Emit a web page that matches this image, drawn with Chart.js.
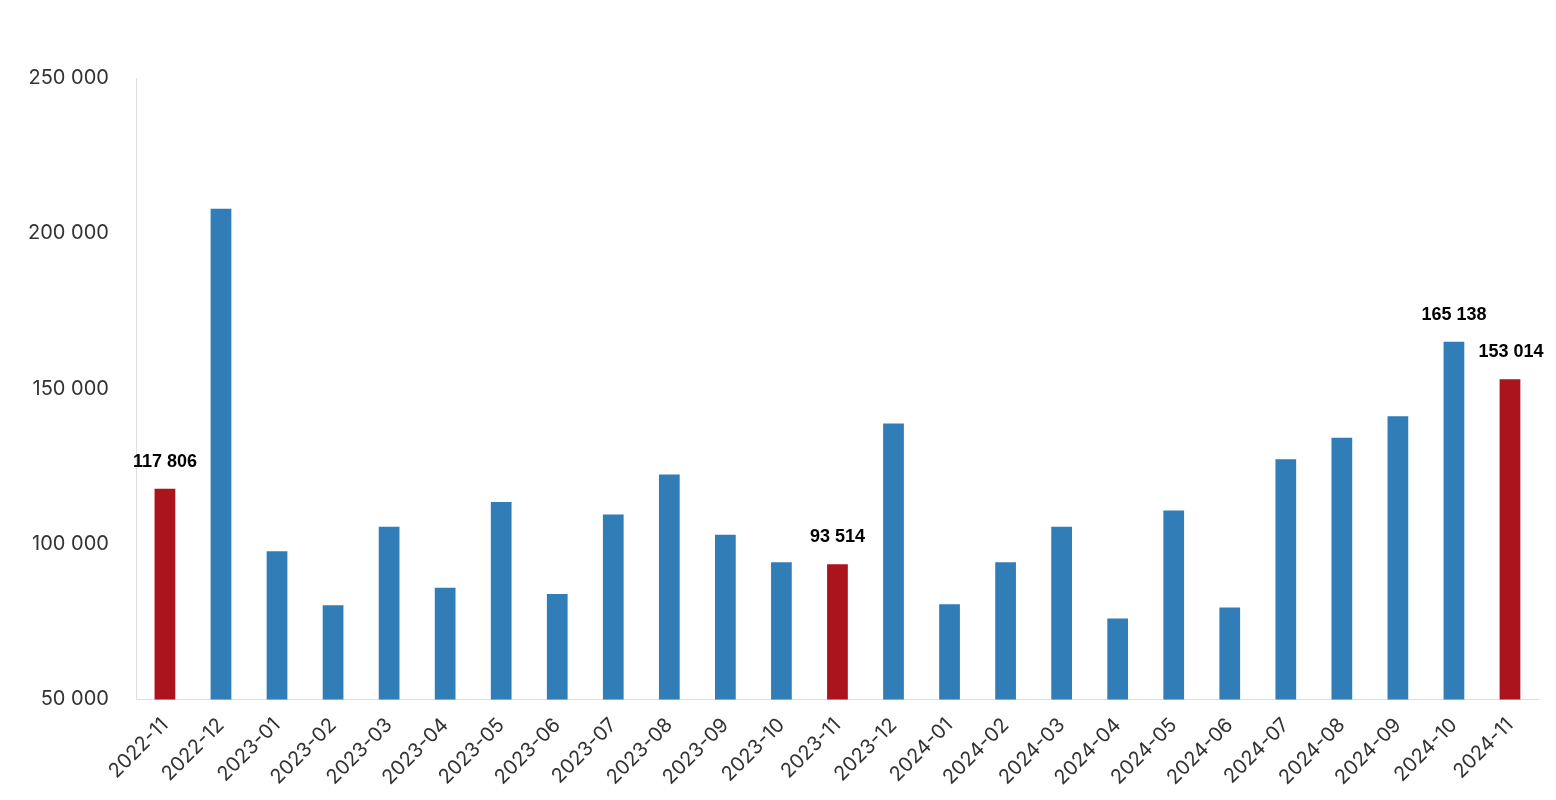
<!DOCTYPE html>
<html><head><meta charset="utf-8">
<script src="https://cdn.jsdelivr.net/npm/chart.js@4"></script>
<style>html,body{margin:0;background:#fff}#w{width:1556px;height:800px}</style>
</head><body><div id="w"><canvas id="c"></canvas></div>
<script>
const categories=["2022-11","2022-12","2023-01","2023-02","2023-03","2023-04","2023-05","2023-06","2023-07","2023-08","2023-09","2023-10","2023-11","2023-12","2024-01","2024-02","2024-03","2024-04","2024-05","2024-06","2024-07","2024-08","2024-09","2024-10","2024-11"];
const values=[117806,207900,97700,80300,105600,85900,113500,83900,109500,122400,103000,94100,93514,138800,80600,94100,105600,76000,110800,79600,127300,134200,141100,165138,153014];
const highlighted=["2022-11","2023-11","2024-11"];
const labelled=["2022-11","2023-11","2024-10","2024-11"];
const fmt=v=>String(v).replace(/\B(?=(\d{3})+(?!\d))/g,' ');
const labelPlugin={id:'lbl',afterDatasetsDraw(ch){const ctx=ch.ctx;const meta=ch.getDatasetMeta(0);ctx.save();ctx.font='bold 18px "Liberation Sans", Arial';ctx.fillStyle='#000';ctx.textAlign='center';ctx.textBaseline='bottom';
meta.data.forEach((b,i)=>{if(labelled.includes(categories[i])){ctx.fillText(fmt(values[i]),b.x+(categories[i]==='2024-11'?1:0),b.y-18);}});ctx.restore();}};
new Chart(document.getElementById('c'),{type:'bar',data:{labels:categories,datasets:[{data:values,backgroundColor:categories.map(c=>highlighted.includes(c)?'#ab141c':'#317db8'),barPercentage:0.37,categoryPercentage:1}]},
options:{responsive:true,maintainAspectRatio:false,animation:false,layout:{padding:{top:78,right:18,left:0,bottom:4}},plugins:{legend:{display:false},tooltip:{enabled:false}},
scales:{y:{min:50000,max:250000,ticks:{stepSize:50000,callback:v=>fmt(v),color:'#333',font:{size:20,family:'Inter'},padding:28},grid:{display:false,drawTicks:false},border:{color:'#ddd'}},
x:{ticks:{maxRotation:45,minRotation:45,color:'#333',font:{size:20,family:'Inter'},padding:6},grid:{display:false},border:{color:'#ddd'}}}},plugins:[labelPlugin]});
</script></body></html>
